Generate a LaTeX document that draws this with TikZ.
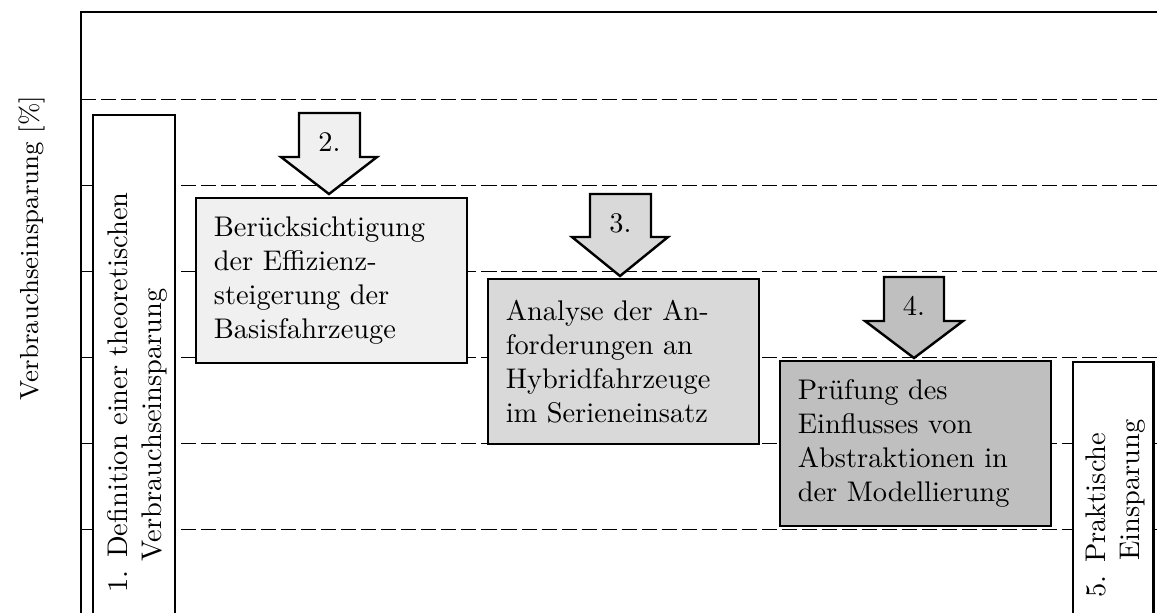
\documentclass[tikz,border=0pt]{standalone}
\usepackage{xcolor}
\definecolor{stepA}{HTML}{F0F0F0}
\definecolor{stepB}{HTML}{D9D9D9}
\definecolor{stepC}{HTML}{BFBFBF}
\tikzset{
  grid line/.style={line width=0.55pt, dash pattern=on 5.3pt off 1.75pt},
  axis line/.style={line width=0.6pt},
  procbox/.style={draw, line width=0.85pt, minimum width=95.4pt, minimum height=58.1pt,
    text width=83pt, inner xsep=6.2pt, align=left, anchor=north west},
  sidebox/.style={draw, fill=white, line width=0.85pt, anchor=north west, inner sep=0pt},
  stepshape/.style={draw, line width=0.85pt, line join=miter},
  steplabel/.style={inner sep=0pt},
  sidetext/.style={rotate=90, align=left, inner sep=0pt, anchor=north west},
}
\begin{document}
\begin{tikzpicture}[x=0.3521pt, y=-0.3521pt]
\useasboundingbox (0,0) rectangle (1157,612);
\clip (0,0) rectangle (1157,612);

% horizontal grid with ticks on the savings axis
\foreach \g in {99.5,185.5,271.5,357.5,443.5,529.5} {
  \draw[grid line] (81,\g) -- (1157,\g);
  \draw[axis line] (81,\g) -- (92,\g);
}
\draw[axis line] (81,620) -- (81,12) -- (1160,12);

% axis title
\node[rotate=90, font=\fontsize{9.2pt}{11pt}\selectfont] (ylab) at (32,248) {Verbrauchseinsparung [\%]};

% step 1: theoretical savings
\node[sidebox, minimum width=28.9pt, minimum height=178.2pt] (b1) at (92,114) {};
\node[sidetext] (t1) at (107,593) {1. Definition einer theoretischen\\\hspace*{11pt}Verbrauchseinsparung};

% steps 2-4 with their reduction arrows
\node[procbox, fill=stepA] (b2) at (195,197) {Berücksichtigung\\der Effizienz-\\steigerung der\\Basisfahrzeuge};
\node[procbox, fill=stepB] (b3) at (487,278) {Analyse der An-\\forderungen an\\Hybridfahrzeuge\\im Serieneinsatz};
\node[procbox, fill=stepC] (b4) at (779,360) {Prüfung des\\Einflusses von\\Abstraktionen in\\der Modellierung};

\draw[stepshape, fill=stepA] (299,113) -- (360,113) -- (360,157) -- (377,157) -- (329,194) -- (281,157) -- (299,157) -- cycle;
\node[steplabel] (a2) at (329.5,142) {2.};
\draw[stepshape, fill=stepB] (590,194) -- (651,194) -- (651,237) -- (668,237) -- (620,276) -- (572,237) -- (590,237) -- cycle;
\node[steplabel] (a3) at (620.5,223) {3.};
\draw[stepshape, fill=stepC] (884,277) -- (944,277) -- (944,321) -- (963,321) -- (914,358) -- (865,321) -- (884,321) -- cycle;
\node[steplabel] (a4) at (914,306) {4.};

% step 5: practical savings
\node[sidebox, minimum width=28.2pt, minimum height=91.2pt] (b5) at (1072,361) {};
\node[sidetext] (t5) at (1085,598) {5. Praktische\\\hspace*{13pt}Einsparung};
\end{tikzpicture}
\end{document}
